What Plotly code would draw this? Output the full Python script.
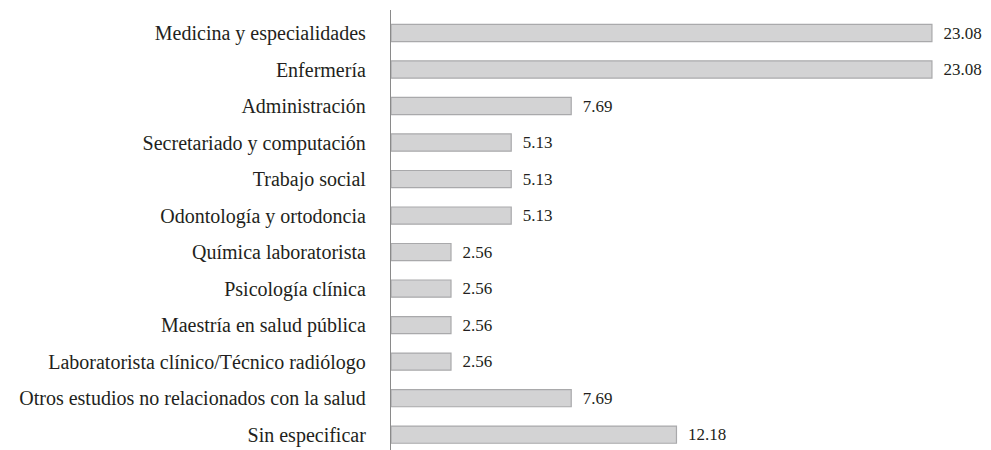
import plotly.graph_objects as go

categories = [
    "Medicina y especialidades",
    "Enfermería",
    "Administración",
    "Secretariado y computación",
    "Trabajo social",
    "Odontología y ortodoncia",
    "Química laboratorista",
    "Psicología clínica",
    "Maestría en salud pública",
    "Laboratorista clínico/Técnico radiólogo",
    "Otros estudios no relacionados con la salud",
    "Sin especificar",
]
values = [23.08, 23.08, 7.69, 5.13, 5.13, 5.13, 2.56, 2.56, 2.56, 2.56, 7.69, 12.18]
value_labels = ["23.08", "23.08", "7.69", "5.13", "5.13", "5.13", "2.56", "2.56", "2.56", "2.56", "7.69", "12.18"]

FONT = "Liberation Serif, DejaVu Serif, Times New Roman, serif"

fig = go.Figure(go.Bar(
    y=categories,
    x=values,
    orientation="h",
    width=0.47,
    marker=dict(color="#d3d3d4", line=dict(color="#a9a9ab", width=1.2)),
    text=["  " + t for t in value_labels],
    textposition="outside",
    constraintext="none",
    cliponaxis=False,
    textfont=dict(family=FONT, size=17, color="#231f20"),
    outsidetextfont=dict(family=FONT, size=17, color="#231f20"),
    hoverinfo="skip",
))

fig.update_layout(
    width=983, height=442,
    margin=dict(l=383, r=0, t=2, b=0),
    paper_bgcolor="white", plot_bgcolor="white",
    showlegend=False,
    font=dict(family=FONT, size=20, color="#231f20"),
)
fig.update_xaxes(range=[0, 25.6], showgrid=False, zeroline=False, showticklabels=False,
                 showline=False, fixedrange=True)
fig.update_yaxes(range=[11.42, -0.63], autorange=False, showgrid=False, zeroline=False,
                 showline=True, linecolor="#8a8a8a", linewidth=1.3,
                 ticks="", ticklabelstandoff=20,
                 tickfont=dict(family=FONT, size=20, color="#231f20"))

fig.write_html("out.html")
